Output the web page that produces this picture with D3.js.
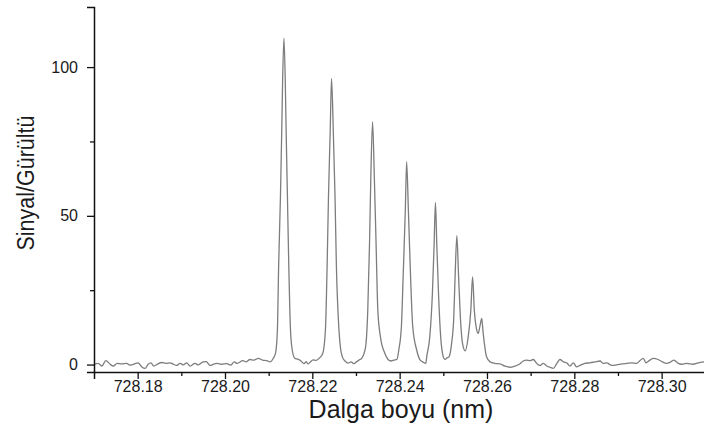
<!DOCTYPE html>
<html>
<head>
<meta charset="utf-8">
<script src="https://cdn.jsdelivr.net/npm/d3@7"></script>
<style>
  body { margin: 0; background: #fff; }
  text { font-family: 'Liberation Sans', Arial, sans-serif; fill: #1a1a1a; }
</style>
</head>
<body>
<script>
// Data (wavelength in nm, signal/noise)
const wavelength = [
  728.1700, 728.1710, 728.1718, 728.1727, 728.1737, 728.1744, 728.1753, 728.1763, 728.1775, 728.1782,
  728.1790, 728.1801, 728.1809, 728.1817, 728.1824, 728.1830, 728.1837, 728.1845, 728.1855, 728.1865,
  728.1874, 728.1882, 728.1889, 728.1897, 728.1905, 728.1912, 728.1920, 728.1931, 728.1939, 728.1950,
  728.1957, 728.1966, 728.1973, 728.1982, 728.1992, 728.2004, 728.2013, 728.2021, 728.2028, 728.2041,
  728.2048, 728.2057, 728.2066, 728.2076, 728.2086, 728.2096, 728.2103, 728.2111,
  728.2116, 728.2120, 728.2123, 728.2127, 728.2130, 728.2132, 728.2135, 728.2138, 728.2140, 728.2143,
  728.2146, 728.2150, 728.2154, 728.2160,
  728.2167, 728.2174, 728.2181, 728.2186, 728.2190, 728.2195, 728.2202, 728.2208, 728.2215,
  728.2224, 728.2230, 728.2234, 728.2237, 728.2241, 728.2244, 728.2248, 728.2252, 728.2255, 728.2261,
  728.2265, 728.2269, 728.2275, 728.2282, 728.2289, 728.2295, 728.2302, 728.2308, 728.2313,
  728.2319, 728.2323, 728.2327, 728.2331, 728.2334, 728.2338, 728.2342, 728.2346, 728.2350, 728.2356,
  728.2366, 728.2373, 728.2380, 728.2387, 728.2394,
  728.2398, 728.2404, 728.2408, 728.2413, 728.2416, 728.2420, 728.2425, 728.2430, 728.2439, 728.2447,
  728.2452, 728.2460,
  728.2462, 728.2469, 728.2475, 728.2479, 728.2482, 728.2485, 728.2489, 728.2494, 728.2500, 728.2504,
  728.2508,
  728.2513, 728.2519, 728.2524, 728.2527, 728.2531, 728.2535, 728.2539, 728.2544, 728.2550,
  728.2557, 728.2563, 728.2567, 728.2571, 728.2576, 728.2580,
  728.2584, 728.2588, 728.2591, 728.2594, 728.2599, 728.2607,
  728.2618, 728.2630, 728.2641, 728.2653, 728.2664, 728.2674, 728.2683, 728.2691, 728.2698, 728.2706,
  728.2714, 728.2721, 728.2729, 728.2737, 728.2744, 728.2752, 728.2760, 728.2767, 728.2775, 728.2784,
  728.2790, 728.2798, 728.2805, 728.2813, 728.2824, 728.2836, 728.2847, 728.2859, 728.2866, 728.2874,
  728.2886, 728.2897, 728.2909, 728.2920, 728.2931, 728.2943, 728.2950, 728.2958, 728.2964, 728.2973,
  728.2981, 728.2992, 728.3002, 728.3011, 728.3021, 728.3028, 728.3038, 728.3046, 728.3057, 728.3072,
  728.3084, 728.3095, 728.3100
]

const snr = [
  0.1, 0.4, -0.5, 1.3, 0.1, -0.5, 0.4, 0.2, 0.4, -0.2,
  0.1, 0.6, -0.7, -1.3, 0.1, 0.6, -0.5, 0.1, 0.7, 0.4,
  0.6, 0.1, -0.3, 0.4, -0.1, 0.6, -0.5, 0.4, -0.1, 0.9,
  1.0, -0.3, 0.1, 0.4, 0.1, 0.3, -0.2, 0.9, 0.4, 1.3,
  0.9, 1.7, 1.5, 2.1, 1.5, 1.3, 0.9, 2.2,
  4.0, 11.6, 34.0, 56.4, 78.8, 95.6, 109.7, 95.6, 78.8, 56.4,
  34.0, 11.6, 4.9, 2.1,
  1.8, 1.2, 0.3, 1.0, 0.2, 0.8, 1.6, 1.4, 2.0,
  3.8, 11.6, 34.0, 56.4, 78.8, 96.2, 78.8, 56.4, 34.0, 11.6,
  5.0, 2.5, 1.2, 0.5, 0.9, 0.3, 1.0, 1.6, 2.1,
  4.0, 7.1, 18.3, 40.7, 63.1, 81.6, 63.1, 40.7, 18.3, 9.3,
  3.8, 1.8, 1.2, 1.5, 1.8,
  4.9, 12.7, 29.5, 51.9, 68.2, 51.9, 29.5, 12.7, 4.9, 1.5,
  1.0, 0.4,
  2.6, 9.3, 23.9, 40.7, 54.5, 40.7, 23.9, 9.3, 2.6, 1.7,
  2.2,
  2.6, 7.1, 16.1, 29.5, 43.3, 29.5, 16.1, 7.1, 4.6,
  9.3, 18.3, 29.5, 18.3, 12.0, 10.5,
  13.0, 15.5, 11.0, 7.1, 2.6, 0.9,
  0.4, 0.2, -0.5, -0.9, -0.5, 0.1, 1.2, 1.5, 1.3, 1.7,
  0.4, -0.3, 0.4, -0.5, -0.9, -1.3, 0.4, 1.7, 0.9, 0.4,
  -0.5, 0.6, -0.8, -0.3, 0.4, 0.6, 0.9, 1.2, 0.4, 0.6,
  -0.3, -0.1, 0.2, 0.4, 0.6, 0.4, 1.3, 2.1, 0.6, 1.5,
  2.1, 1.7, 0.9, 0.4, 0.9, 1.5, 0.4, 0.1, 0.4, 0.1,
  0.6, 0.9, 0.5
]

const xMajorTicks = [728.18, 728.20, 728.22, 728.24, 728.26, 728.28, 728.30]
const xMinorTicks = [728.19, 728.21, 728.23, 728.25, 728.27, 728.29]
const yMajorTicks = [0, 50, 100]
const yMinorTicks = [25, 75]

const xDomain = [728.17, 728.31]
const yDomain = [-2.5, 120.2]

function initializeSVG (width, height) {
  return d3.select('body')
    .append('svg')
    .attr('width', width)
    .attr('height', height)
}

function drawAxes (svg, x, y) {
  const xAxis = d3.axisBottom(x)
    .tickValues(xMajorTicks)
    .tickSize(7)
    .tickPadding(2)
    .tickFormat(d3.format('.2f'))

  svg.append('g')
    .attr('transform', `translate(0,${y.range()[0]})`)
    .call(xAxis)

  svg.append('g')
    .attr('transform', `translate(0,${y.range()[0]})`)
    .call(d3.axisBottom(x).tickValues(xMinorTicks).tickSize(4).tickFormat(''))
    .select('.domain').remove()

  const yAxis = d3.axisLeft(y)
    .tickValues(yMajorTicks)
    .tickSize(7)
    .tickPadding(9)

  svg.append('g')
    .attr('transform', `translate(${x.range()[0]},0)`)
    .call(yAxis)

  svg.append('g')
    .attr('transform', `translate(${x.range()[0]},0)`)
    .call(d3.axisLeft(y).tickValues(yMinorTicks).tickSize(4).tickFormat(''))
    .select('.domain').remove()

  svg.selectAll('.domain')
    .attr('stroke', '#111')
    .attr('stroke-width', 1.5)
  svg.selectAll('.tick line')
    .attr('stroke', '#111')
    .attr('stroke-width', 1.3)
  svg.selectAll('.tick text')
    .style('font-size', '16px')
    .style('font-family', "'Liberation Sans', Arial, sans-serif")
    .attr('fill', '#1a1a1a')

  // axis titles
  svg.append('text')
    .attr('x', 401)
    .attr('y', 418)
    .attr('text-anchor', 'middle')
    .style('font-size', '25px')
    .text('Dalga boyu (nm)')

  svg.append('text')
    .attr('transform', 'translate(34,183) rotate(-90)')
    .attr('text-anchor', 'middle')
    .attr('textLength', 135)
    .attr('lengthAdjust', 'spacingAndGlyphs')
    .style('font-size', '23px')
    .text('Sinyal/Gürültü')
}

function drawSpectrum (svg, x, y) {
  const points = wavelength.map((w, i) => [w, snr[i]])

  const line = d3.line()
    .x(d => x(d[0]))
    .y(d => y(d[1]))
    .curve(d3.curveMonotoneX)

  svg.append('path')
    .datum(points)
    .attr('fill', 'none')
    .attr('stroke', '#7d7d7d')
    .attr('stroke-width', 1.3)
    .attr('d', line)
}

function main () {
  const svg = initializeSVG(704, 432)

  const x = d3.scaleLinear().domain(xDomain).range([94, 705.3])
  const y = d3.scaleLinear().domain(yDomain).range([372, 7])

  drawSpectrum(svg, x, y)
  drawAxes(svg, x, y)
}

main()
</script>
</body>
</html>
